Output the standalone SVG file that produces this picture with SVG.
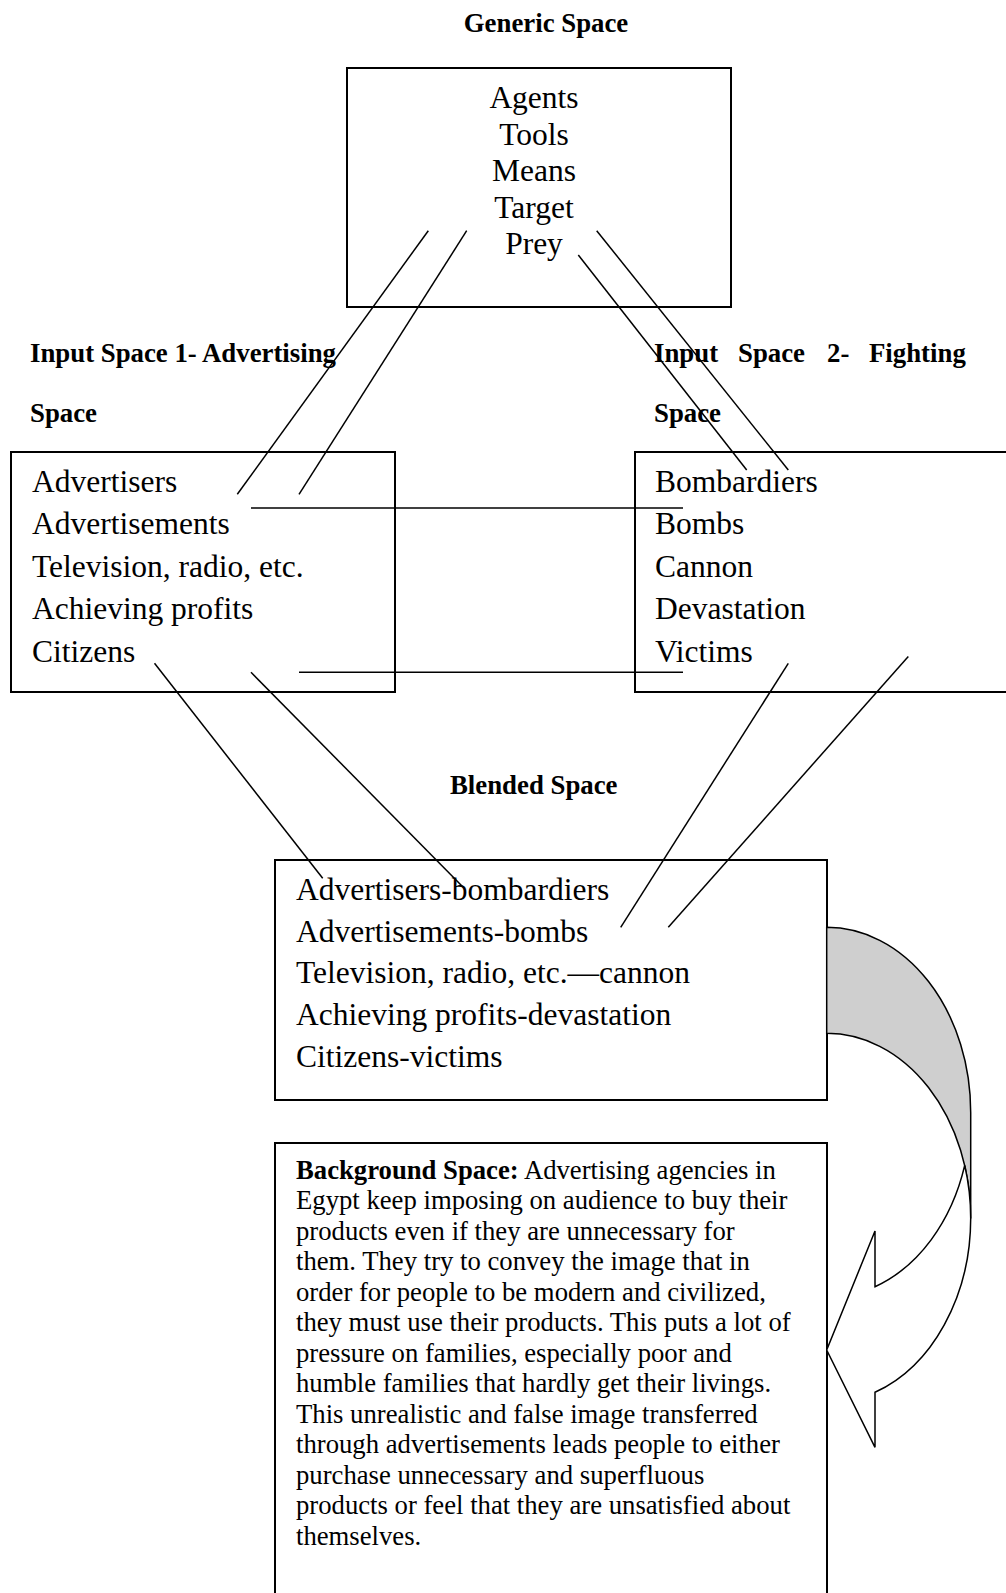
<svg xmlns="http://www.w3.org/2000/svg" width="1006" height="1593" viewBox="0 0 1006 1593">
<style>
text { font-family: "Liberation Serif", "Times New Roman", serif; fill: #000; }
.h { font-size: 26.8px; font-weight: bold; }
.it { font-size: 31.5px; }
.bg { font-size: 26.7px; }
.box { fill: #fff; stroke: #000; stroke-width: 2; }
.ln { stroke: #000; stroke-width: 1.5; fill: none; }
</style>
<rect width="1006" height="1593" fill="#fff"/>

<g id="generic">
<text class="h" x="546" y="32" text-anchor="middle">Generic Space</text>
<rect class="box" x="347" y="68" width="384" height="239"/>
<text class="it" x="534" text-anchor="middle"><tspan x="534" y="108">Agents</tspan><tspan x="534" y="144.5">Tools</tspan><tspan x="534" y="181">Means</tspan><tspan x="534" y="217.5">Target</tspan><tspan x="534" y="254">Prey</tspan></text>
</g>

<g id="input1">
<text class="h"><tspan x="30" y="362">Input Space 1- Advertising</tspan><tspan x="30" y="422">Space</tspan></text>
<rect class="box" x="11" y="452" width="384" height="240"/>
<text class="it"><tspan x="32" y="492">Advertisers</tspan><tspan x="32" y="534.4">Advertisements</tspan><tspan x="32" y="576.8">Television, radio, etc.</tspan><tspan x="32" y="619.2">Achieving profits</tspan><tspan x="32" y="661.6">Citizens</tspan></text>
</g>

<g id="input2">
<text class="h"><tspan x="654" y="362">Input</tspan><tspan x="738" y="362">Space</tspan><tspan x="827" y="362">2-</tspan><tspan x="869" y="362">Fighting</tspan><tspan x="654" y="422">Space</tspan></text>
<rect class="box" x="635" y="452" width="380" height="240"/>
<text class="it"><tspan x="655" y="492">Bombardiers</tspan><tspan x="655" y="534.4">Bombs</tspan><tspan x="655" y="576.8">Cannon</tspan><tspan x="655" y="619.2">Devastation</tspan><tspan x="655" y="661.6">Victims</tspan></text>
</g>

<g id="blended">
<text class="h" x="450" y="793.5">Blended Space</text>
<rect class="box" x="275" y="860" width="552" height="240"/>
<text class="it"><tspan x="296" y="900">Advertisers-bombardiers</tspan><tspan x="296" y="941.7">Advertisements-bombs</tspan><tspan x="296" y="983.4">Television, radio, etc.—cannon</tspan><tspan x="296" y="1025">Achieving profits-devastation</tspan><tspan x="296" y="1066.7">Citizens-victims</tspan></text>
</g>

<g id="background">
<rect class="box" x="275" y="1143" width="552" height="470"/>
<text class="bg"><tspan x="296" y="1178.5"><tspan font-weight="bold">Background Space:</tspan> Advertising agencies in</tspan><tspan x="296" y="1209">Egypt keep imposing on audience to buy their</tspan><tspan x="296" y="1239.5">products even if they are unnecessary for</tspan><tspan x="296" y="1270">them. They try to convey the image that in</tspan><tspan x="296" y="1300.5">order for people to be modern and civilized,</tspan><tspan x="296" y="1331">they must use their products. This puts a lot of</tspan><tspan x="296" y="1361.5">pressure on families, especially poor and</tspan><tspan x="296" y="1392">humble families that hardly get their livings.</tspan><tspan x="296" y="1422.5">This unrealistic and false image transferred</tspan><tspan x="296" y="1453">through advertisements leads people to either</tspan><tspan x="296" y="1483.5">purchase unnecessary and superfluous</tspan><tspan x="296" y="1514">products or feel that they are unsatisfied about</tspan><tspan x="296" y="1544.5">themselves.</tspan></text>
</g>

<g id="curved-arrow" stroke="#000" stroke-width="1.5" stroke-linejoin="miter">
<path fill="#cfcfcf" d="M826.7 927.3 A144 185.1 0 0 1 970.7 1112.4 L970.7 1218.4 A144 185.1 0 0 0 826.7 1033.3 Z"/>
<path fill="#fff" d="M964.7 1165.4 A144 185.1 0 0 1 970.7 1218.4 A144 185.1 0 0 1 875 1392.3 L875 1447.3 L826.7 1350 L875 1231 L875 1286.7 A144 185.1 0 0 0 964.7 1165.4 Z"/>
</g>

<g id="connectors" class="ln">
<line x1="428.3" y1="230.7" x2="237.3" y2="494.3"/>
<line x1="466.7" y1="230.7" x2="299" y2="494.3"/>
<line x1="578.3" y1="255" x2="746.7" y2="470"/>
<line x1="596.7" y1="230.7" x2="788.3" y2="470"/>
<line x1="251" y1="508" x2="683" y2="508"/>
<line x1="299" y1="672.3" x2="683" y2="672.3"/>
<line x1="154.5" y1="663.3" x2="322.7" y2="878.3"/>
<line x1="251" y1="672.3" x2="462.7" y2="886.7"/>
<line x1="788.3" y1="663.3" x2="620.7" y2="927.3"/>
<line x1="908.3" y1="656.5" x2="668.3" y2="927.3"/>
</g>
</svg>
